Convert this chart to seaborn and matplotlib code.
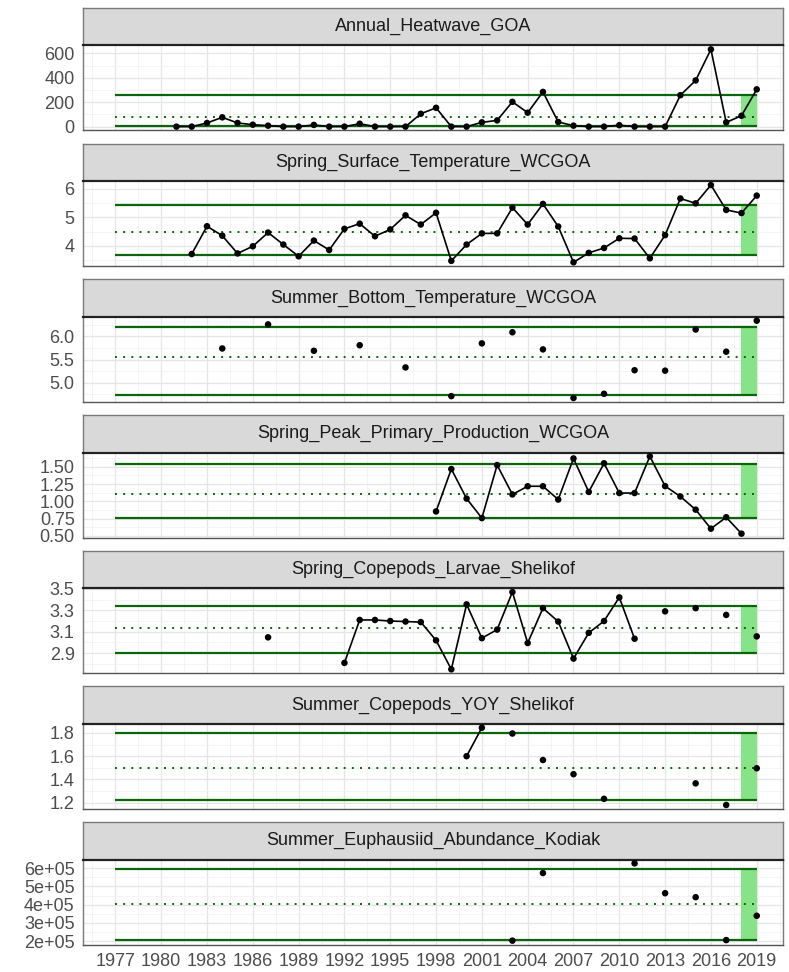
import numpy as np
import pandas as pd
import matplotlib
matplotlib.use('Agg')
import matplotlib.pyplot as plt
from matplotlib.ticker import FixedLocator, MultipleLocator
import seaborn as sns

# facet names
indicators = ['Annual_Heatwave_GOA',
              'Spring_Surface_Temperature_WCGOA',
              'Summer_Bottom_Temperature_WCGOA',
              'Spring_Peak_Primary_Production_WCGOA',
              'Spring_Copepods_Larvae_Shelikof',
              'Summer_Copepods_YOY_Shelikof',
              'Summer_Euphausiid_Abundance_Kodiak']

# series values
heatwave_years = list(range(1981, 2020))
heatwave = [0, 0, 30, 76, 30, 16, 8, 0, 0, 14, 0, 0, 24, 0, 0, 0, 105, 154, 0, 0,
            35, 51, 203, 114, 284, 38, 8, 0, 0, 12, 0, 0, 0, 257, 378, 632, 35, 89, 305]

sst_years = list(range(1982, 2020))
sst = [3.72, 4.69, 4.36, 3.74, 3.99, 4.47, 4.05, 3.64, 4.19, 3.86,
       4.60, 4.78, 4.34, 4.58, 5.07, 4.75, 5.16, 3.48, 4.05, 4.44,
       4.44, 5.34, 4.75, 5.47, 4.68, 3.43, 3.76, 3.93, 4.27, 4.26,
       3.57, 4.38, 5.66, 5.49, 6.13, 5.26, 5.15, 5.76]

bottom_years = [1984, 1987, 1990, 1993, 1996, 1999, 2001, 2003, 2005, 2007,
                2009, 2011, 2013, 2015, 2017, 2019]
bottom = [5.74, 6.26, 5.69, 5.81, 5.33, 4.71, 5.85, 6.09, 5.72, 4.67,
          4.76, 5.27, 5.26, 6.15, 5.67, 6.34]

prod_years = list(range(1998, 2019))
prod = [0.854, 1.467, 1.04, 0.758, 1.524, 1.10, 1.218, 1.218, 1.026, 1.62,
        1.136, 1.55, 1.12, 1.12, 1.65, 1.22, 1.07, 0.88, 0.605, 0.77, 0.533]

larvae_years = [1987] + list(range(1992, 2012)) + [2013, 2015, 2017, 2019]
larvae = [3.048, 2.81, 3.21, 3.21, 3.20, 3.195, 3.19, 3.02, 2.75, 3.355, 3.04,
          3.12, 3.47, 2.995, 3.32, 3.195, 2.85, 3.09, 3.20, 3.42, 3.035,
          3.29, 3.32, 3.257, 3.057]

yoy_years = [2000, 2001, 2003, 2005, 2007, 2009, 2015, 2017, 2019]
yoy = [1.60, 1.845, 1.795, 1.567, 1.445, 1.233, 1.366, 1.18, 1.496]

euph_years = [2003, 2005, 2011, 2013, 2015, 2017, 2019]
euph = [2.02e5, 5.74e5, 6.27e5, 4.63e5, 4.41e5, 2.05e5, 3.39e5]

series_years = [heatwave_years, sst_years, bottom_years, prod_years,
                larvae_years, yoy_years, euph_years]
series_values = [heatwave, sst, bottom, prod, larvae, yoy, euph]

# mean and +/- sd lines
means = [78, 4.50, 5.56, 1.11, 3.137, 1.496, 4.05e5]
upper = [262, 5.43, 6.21, 1.54, 3.34, 1.80, 5.95e5]
lower = [2, 3.70, 4.74, 0.76, 2.906, 1.22, 2.05e5]

yticks = [[0, 200, 400, 600], [4, 5, 6], [5.0, 5.5, 6.0],
          [0.50, 0.75, 1.00, 1.25, 1.50], [2.9, 3.1, 3.3, 3.5],
          [1.2, 1.4, 1.6, 1.8], [2e5, 3e5, 4e5, 5e5, 6e5]]
ytick_labels = [['0', '200', '400', '600'], ['4', '5', '6'], ['5.0', '5.5', '6.0'],
                ['0.50', '0.75', '1.00', '1.25', '1.50'], ['2.9', '3.1', '3.3', '3.5'],
                ['1.2', '1.4', '1.6', '1.8'],
                ['2e+05', '3e+05', '4e+05', '5e+05', '6e+05']]
xticks = list(range(1977, 2020, 3))
first_year, last_year = 1977, 2019
shade_start = 2018

sns.set_style('white')
plt.rcParams['font.family'] = ['Liberation Sans', 'DejaVu Sans']

W, H = 789, 972
fig = plt.figure(figsize=(W / 100, H / 100), dpi=100)

left_px, width_px = 83, 700
pitch, strip_h, panel_h = 135.67, 37.5, 85.0

for i, name in enumerate(indicators):
    top = 8 + i * pitch
    # strip
    ax_s = fig.add_axes([left_px / W, 1 - (top + strip_h) / H, width_px / W, strip_h / H])
    ax_s.set_facecolor('#D9D9D9')
    ax_s.set_xticks([])
    ax_s.set_yticks([])
    for sp in ax_s.spines.values():
        sp.set_color('#7a7a7a')
        sp.set_linewidth(1.0)
    ax_s.text(0.5, 0.5, name, ha='center', va='center', fontsize=13,
              color='#1A1A1A', transform=ax_s.transAxes)

    # panel
    ax = fig.add_axes([left_px / W, 1 - (top + strip_h + panel_h) / H,
                       width_px / W, panel_h / H])
    df = pd.DataFrame({'year': series_years[i], 'value': series_values[i]})
    # break line where years are not consecutive
    df['seg'] = (df['year'].diff() != 1).cumsum()

    vals = list(df['value']) + [upper[i], lower[i], means[i]]
    lo, hi = min(vals), max(vals)
    pad = 0.05 * (hi - lo)
    ax.set_ylim(lo - pad, hi + pad)
    ax.set_xlim(1974.88, 2020.72)

    ax.fill_between([shade_start, last_year], lower[i], upper[i],
                    color='#86e386', lw=0, zorder=1)
    ax.hlines([upper[i], lower[i]], first_year, last_year, colors='#0b650b',
              lw=1.6, zorder=2)
    ax.hlines(means[i], first_year, last_year, colors='#0b650b',
              linestyles=(0, (1, 3.2)), lw=1.4, zorder=2)

    sns.lineplot(data=df, x='year', y='value', units='seg', estimator=None,
                 color='black', lw=1.2, ax=ax, zorder=3)
    sns.scatterplot(data=df, x='year', y='value', color='black', s=22,
                    edgecolor='none', ax=ax, zorder=4)

    ax.yaxis.set_major_locator(FixedLocator(yticks[i]))
    ax.set_yticklabels(ytick_labels[i])
    step = yticks[i][1] - yticks[i][0]
    ax.yaxis.set_minor_locator(MultipleLocator(step / 2))
    ax.xaxis.set_major_locator(FixedLocator(xticks))
    ax.xaxis.set_minor_locator(FixedLocator(np.arange(1975.5, 2021, 3)))
    ax.grid(which='major', color='#E6E6E6', lw=0.9, zorder=0)
    ax.grid(which='minor', color='#F2F2F2', lw=0.6, zorder=0)
    ax.set_axisbelow(True)

    ax.set_xlabel('')
    ax.set_ylabel('')
    ax.tick_params(axis='both', which='major', direction='out', length=4,
                   width=0.9, color='#333333', labelcolor='#4D4D4D', labelsize=13,
                   pad=2)
    ax.tick_params(axis='both', which='minor', length=0)
    if i < len(indicators) - 1:
        ax.tick_params(axis='x', which='both', bottom=False, labelbottom=False)
    for side, sp in ax.spines.items():
        sp.set_color('#7a7a7a')
        sp.set_linewidth(1.0)
    ax.spines['top'].set_color('#222222')
    ax.spines['top'].set_linewidth(1.6)
    ax.spines['bottom'].set_color('#555555')

fig.savefig('out.png', dpi=100)
